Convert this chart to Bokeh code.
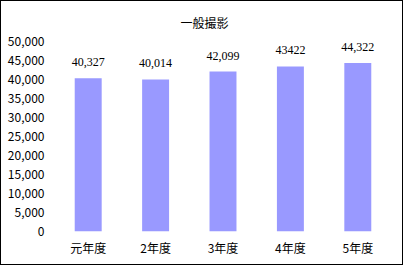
from bokeh.plotting import figure
from bokeh.models import ColumnDataSource, LabelSet, FixedTicker, NumeralTickFormatter, Range1d
from bokeh.embed import file_html
from bokeh.resources import INLINE

categories = ["元年度", "2年度", "3年度", "4年度", "5年度"]
values = [40327, 40014, 42099, 43422, 44322]
value_labels = ["40,327", "40,014", "42,099", "43422", "44,322"]
y_ticks = list(range(0, 50001, 5000))
title_text = "一般撮影"

FONT = "Noto Sans CJK JP"

src = ColumnDataSource(dict(cat=categories, val=values, lab=value_labels))

p = figure(x_range=categories, y_range=Range1d(0, 50000), width=403, height=265,
           output_backend="svg", toolbar_location=None,
           min_border_left=53, min_border_right=13, min_border_top=12, min_border_bottom=35)
p.styles = {"border": "1px solid black"}
p.outline_line_color = None
p.grid.visible = False
p.background_fill_color = "white"
p.border_fill_color = "white"

p.title.text = title_text
p.title.align = "left"
p.title.offset = 126
p.title.text_font = FONT
p.title.text_font_size = "12px"
p.title.text_font_style = "normal"
p.title.text_color = "black"
p.title.standoff = 21

p.vbar(x="cat", top="val", width=0.4, source=src, color="#9999FF", line_color=None)

p.add_layout(LabelSet(x="cat", y="val", text="lab", source=src, y_offset=12,
                      text_align="center", text_baseline="bottom",
                      text_font=FONT, text_font_size="12px", text_color="black"))

ya = p.yaxis[0]
ya.ticker = FixedTicker(ticks=y_ticks)
ya.formatter = NumeralTickFormatter(format="0,0")
xa = p.xaxis[0]
for ax in (ya, xa):
    ax.axis_line_color = None
    ax.major_tick_line_color = None
    ax.minor_tick_line_color = None
    ax.major_tick_out = 0
    ax.major_tick_in = 0
    ax.major_label_text_font = FONT
    ax.major_label_text_font_size = "12px"
    ax.major_label_text_color = "black"
ya.major_label_standoff = 10
xa.major_label_standoff = 7

open("out.html", "w").write(file_html(p, INLINE))
